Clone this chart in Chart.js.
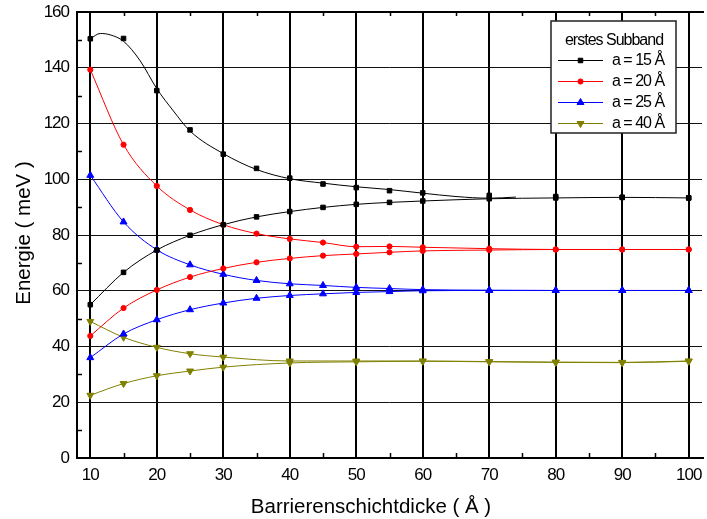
<!DOCTYPE html>
<html>
<head>
<meta charset="utf-8">
<script src="https://cdn.jsdelivr.net/npm/chart.js@4.4.1/dist/chart.umd.min.js"></script>
<style>
  html, body { margin: 0; padding: 0; background: #fff; }
</style>
</head>
<body>
<canvas id="chart" width="707" height="519"></canvas>
<script>
// ticks
const xTicks = [10, 20, 30, 40, 50, 60, 70, 80, 90, 100];
const yTicks = [0, 20, 40, 60, 80, 100, 120, 140, 160];
const xMinor = [15, 25, 35, 45, 55, 65, 75, 85, 95];
const yMinor = [10, 30, 50, 70, 90, 110, 130, 150];

// barrier thickness (Å)
const xFull = [10, 15, 20, 25, 30, 35, 40, 45, 50, 55, 60, 70, 80, 90, 100];
const xOlive = [10, 15, 20, 25, 30, 40, 50, 60, 70, 80, 90, 100];

// a = 15 Å
const a15Upper = [150.4, 150.5, 131.8, 117.7, 109.0, 103.9, 100.4, 98.3, 97.0, 95.9, 95.1, 94.2, 93.8, 93.5, 93.3];
const a15Lower = [55.0, 66.6, 74.6, 79.9, 83.7, 86.5, 88.4, 89.9, 91.0, 91.7, 92.2, 93.0, 93.3, 93.5, 93.3];
const a15FitX = [10, 11.5, 13, 15, 17.5, 20, 22.5, 25, 30, 35, 40, 45, 50, 55, 60, 65, 70, 74];
const a15FitY = [150.4, 152.3, 151.8, 149.5, 142.5, 132.5, 124.5, 117.3, 109.2, 103.5, 100.2, 98.6, 97.3, 96.3, 95.0, 93.8, 93.2, 93.6];
// a = 20 Å
const a20Upper = [139.3, 112.4, 97.6, 89.0, 83.7, 80.5, 78.6, 77.3, 75.8, 75.9, 75.6, 75.1, 74.8, 74.8, 74.8];
const a20Lower = [43.8, 53.8, 60.3, 64.9, 68.0, 70.2, 71.6, 72.6, 73.2, 73.8, 74.3, 74.6, 74.8, 74.8, 74.8];
// a = 25 Å
const a25Upper = [101.4, 84.7, 74.7, 69.3, 65.9, 63.7, 62.5, 61.9, 61.2, 60.8, 60.4, 60.2, 60.1, 60.1, 60.1];
const a25Lower = [36.0, 44.5, 49.6, 53.2, 55.6, 57.3, 58.3, 58.9, 59.4, 59.7, 60.0, 60.1, 60.1, 60.1, 60.1];
// a = 40 Å
const a40Upper = [49.0, 43.3, 39.7, 37.4, 36.2, 34.8, 34.8, 34.8, 34.6, 34.4, 34.3, 34.8];
const a40Lower = [22.5, 26.7, 29.5, 31.2, 32.6, 34.1, 34.5, 34.7, 34.5, 34.3, 34.2, 34.7];

const legendTitle = "erstes Subband";
const seriesNames = ["a = 15 Å", "a = 20 Å", "a = 25 Å", "a = 40 Å"];
const seriesColors = ["#000000", "#ff0000", "#0000ff", "#808000"];
const seriesMarkers = [
  { pointStyle: "rect", radius: 3.2, rotation: 0 },
  { pointStyle: "circle", radius: 2.6, rotation: 0 },
  { pointStyle: "triangle", radius: 4, rotation: 0 },
  { pointStyle: "triangle", radius: 4, rotation: 180 }
];
const FONT = "'Liberation Sans', Arial, sans-serif";

function pts(xs, ys) {
  return xs.map((x, i) => ({ x: x, y: ys[i] }));
}

function series(xs, ys, k, line, marks) {
  const m = seriesMarkers[k];
  return {
    data: pts(xs, ys),
    showLine: line,
    borderColor: seriesColors[k],
    backgroundColor: seriesColors[k],
    borderWidth: 1,
    cubicInterpolationMode: "monotone",
    pointStyle: m.pointStyle,
    pointRotation: m.rotation,
    pointRadius: marks ? m.radius : 0,
    pointBorderWidth: 1,
    pointBorderColor: seriesColors[k],
    pointBackgroundColor: seriesColors[k]
  };
}

const datasets = [
  series(a15FitX, a15FitY, 0, true, false),
  series(xFull, a15Upper, 0, false, true),
  series(xFull, a15Lower, 0, true, true),
  series(xFull, a20Upper, 1, true, true),
  series(xFull, a20Lower, 1, true, true),
  series(xFull, a25Upper, 2, true, true),
  series(xFull, a25Lower, 2, true, true),
  series(xOlive, a40Upper, 3, true, true),
  series(xOlive, a40Lower, 3, true, true)
];

// condensed text like the original export
const spacingPlugin = {
  id: "spacing",
  beforeDraw(chart) {
    chart.ctx.letterSpacing = "-1px";
  }
};

// frame and inner minor ticks
const framePlugin = {
  id: "frame",
  beforeDatasetsDraw(chart) {
    const { ctx, chartArea: a, scales: { x, y } } = chart;
    ctx.save();
    ctx.strokeStyle = "#000";
    ctx.lineWidth = 1.5;
    ctx.beginPath();
    yMinor.forEach(v => {
      const py = Math.round(y.getPixelForValue(v)) + 0.5;
      ctx.moveTo(a.left, py);
      ctx.lineTo(a.left + 5, py);
    });
    xMinor.forEach(v => {
      const px = Math.round(x.getPixelForValue(v)) + 0.5;
      ctx.moveTo(px, a.bottom);
      ctx.lineTo(px, a.bottom - 5);
      ctx.moveTo(px, a.top);
      ctx.lineTo(px, a.top + 4);
    });
    ctx.stroke();
    ctx.lineWidth = 2;
    ctx.beginPath();
    ctx.moveTo(a.left, a.top);
    ctx.lineTo(a.right + 2, a.top);
    ctx.moveTo(a.left, a.top - 1);
    ctx.lineTo(a.left, a.bottom + 1);
    ctx.moveTo(a.left - 1, a.bottom);
    ctx.lineTo(a.right + 2, a.bottom);
    ctx.stroke();
    ctx.restore();
  }
};

// boxed legend inside the plot, line + marker symbols
const boxLegendPlugin = {
  id: "boxLegend",
  afterDatasetsDraw(chart) {
    const { ctx, chartArea: a } = chart;
    const x0 = a.right - 151, y0 = a.top + 9, w = 125, h = 112;
    ctx.save();
    ctx.fillStyle = "#fff";
    ctx.fillRect(x0, y0, w, h);
    ctx.strokeStyle = "#222";
    ctx.lineWidth = 1.5;
    ctx.strokeRect(x0, y0, w, h);
    ctx.fillStyle = "#000";
    ctx.font = "16px " + FONT;
    ctx.textAlign = "center";
    ctx.textBaseline = "alphabetic";
    ctx.fillText(legendTitle, x0 + 63, y0 + 24);
    ctx.textAlign = "left";
    ctx.textBaseline = "middle";
    seriesNames.forEach((name, k) => {
      const cy = y0 + 39 + k * 21;
      ctx.strokeStyle = seriesColors[k];
      ctx.lineWidth = 1;
      ctx.beginPath();
      ctx.moveTo(x0 + 7, cy + 0.5);
      ctx.lineTo(x0 + 52, cy + 0.5);
      ctx.stroke();
      ctx.fillStyle = seriesColors[k];
      const m = seriesMarkers[k];
      Chart.helpers.drawPoint(ctx, {
        pointStyle: m.pointStyle, radius: m.radius, rotation: m.rotation, borderWidth: 1
      }, x0 + 29.5, cy + 0.5);
      ctx.fillStyle = "#000";
      ctx.fillText(name, x0 + 61, cy + 1);
    });
    ctx.restore();
  }
};

// axis titles
const titlePlugin = {
  id: "axisTitles",
  afterDraw(chart) {
    const { ctx, chartArea: a } = chart;
    ctx.save();
    ctx.letterSpacing = "0px";
    ctx.fillStyle = "#000";
    ctx.font = "20.5px " + FONT;
    ctx.textAlign = "center";
    ctx.textBaseline = "alphabetic";
    ctx.fillText("Barrierenschichtdicke ( Å )", a.left + 294, 513);
    ctx.translate(30, (a.top + a.bottom) / 2 - 2);
    ctx.rotate(-Math.PI / 2);
    ctx.fillText("Energie ( meV )", 0, 0);
    ctx.restore();
  }
};

new Chart(document.getElementById("chart"), {
  type: "scatter",
  data: { datasets: datasets },
  options: {
    responsive: false,
    devicePixelRatio: 1,
    animation: false,
    layout: { padding: { top: 12, right: 0, left: 0, bottom: 0 } },
    plugins: {
      legend: { display: false },
      tooltip: { enabled: false },
      title: { display: false }
    },
    scales: {
      x: {
        type: "linear",
        min: 8,
        max: 102,
        afterBuildTicks: s => { s.ticks = xTicks.map(v => ({ value: v })); },
        afterFit: s => { s.height = 61; s.paddingLeft = 0; s.paddingRight = 0; },
        ticks: {
          color: "#000",
          font: { family: FONT, size: 17 },
          padding: 7,
          maxRotation: 0,
          autoSkip: false
        },
        grid: { color: "#000", lineWidth: 2, drawTicks: false },
        border: { display: false }
      },
      y: {
        type: "linear",
        min: 0,
        max: 160,
        afterBuildTicks: s => { s.ticks = yTicks.map(v => ({ value: v })); },
        afterFit: s => { s.width = 77; s.paddingTop = 0; s.paddingBottom = 0; },
        ticks: {
          color: "#000",
          font: { family: FONT, size: 17 },
          padding: 8
        },
        grid: { color: "#111", lineWidth: 1, drawTicks: false },
        border: { display: false }
      }
    }
  },
  plugins: [spacingPlugin, framePlugin, boxLegendPlugin, titlePlugin]
});
</script>
</body>
</html>
